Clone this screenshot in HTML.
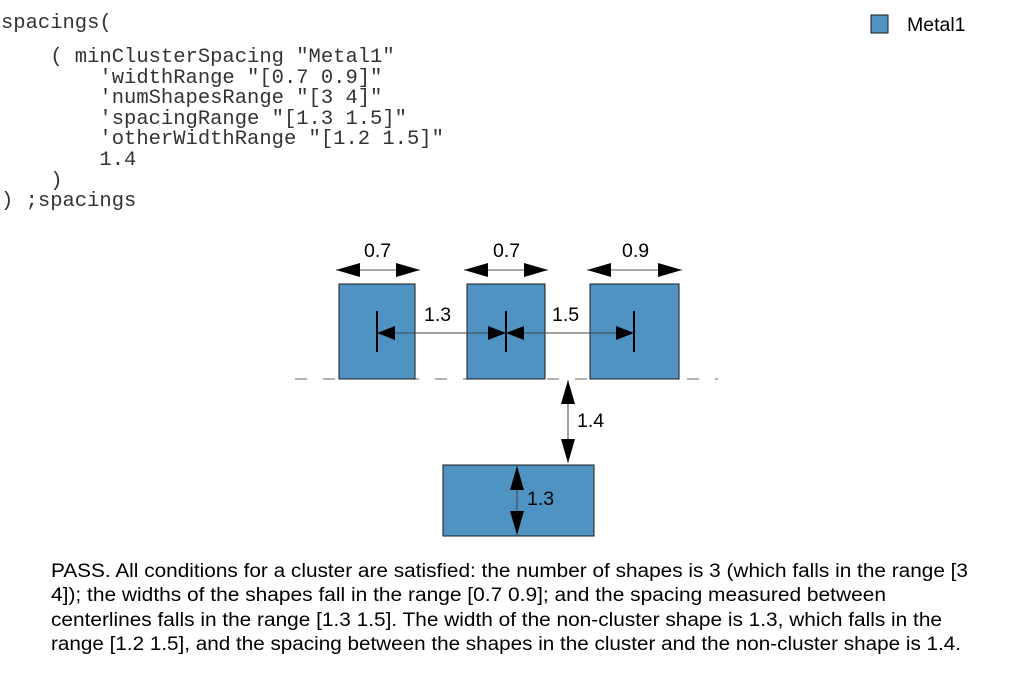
<!DOCTYPE html>
<html><head><meta charset="utf-8"><style>
html,body{margin:0;padding:0;background:#fff;}
svg{display:block;}
.code{font-family:"Liberation Mono",monospace;font-size:20.5px;fill:#333;white-space:pre;}
.lbl{font-family:"Liberation Sans",sans-serif;font-size:19.5px;fill:#000;}
.para{font-family:"Liberation Sans",sans-serif;font-size:19px;fill:#000;}
</style></head><body>
<svg width="1013" height="679" viewBox="0 0 1013 679">
<defs>
<marker id="ah" viewBox="0 0 24 14" refX="24" refY="7" markerWidth="24" markerHeight="14" markerUnits="userSpaceOnUse" orient="auto-start-reverse" preserveAspectRatio="none"><path d="M0,0 L24,7 L0,14 z" fill="#000"/></marker>
<marker id="ahs" viewBox="0 0 18 14" refX="18" refY="7" markerWidth="18" markerHeight="14" markerUnits="userSpaceOnUse" orient="auto-start-reverse" preserveAspectRatio="none"><path d="M0,0 L18,7 L0,14 z" fill="#000"/></marker>
</defs>
<g class="code">
<text x="1" y="28">spacings(</text>
<text x="1" y="62" xml:space="preserve">    ( minClusterSpacing "Metal1"</text>
<text x="1" y="83" xml:space="preserve">        'widthRange "[0.7 0.9]"</text>
<text x="1" y="103" xml:space="preserve">        'numShapesRange "[3 4]"</text>
<text x="1" y="124" xml:space="preserve">        'spacingRange "[1.3 1.5]"</text>
<text x="1" y="144" xml:space="preserve">        'otherWidthRange "[1.2 1.5]"</text>
<text x="1" y="165" xml:space="preserve">        1.4</text>
<text x="1" y="186" xml:space="preserve">    )</text>
<text x="1" y="206" xml:space="preserve">) ;spacings</text>
</g>
<g>
<rect x="871" y="15" width="17" height="18" fill="#4f93c3" stroke="#1a1a1a" stroke-width="1"/>
<text class="lbl" x="907" y="31">Metal1</text>
</g>
<line x1="295" y1="379" x2="718" y2="379" stroke="#666" stroke-width="1" stroke-dasharray="12 16"/>
<g fill="#4f93c3" stroke="#1a1a1a" stroke-width="1">
<rect x="339" y="284" width="76" height="95"/>
<rect x="467" y="284" width="78" height="95"/>
<rect x="590" y="284" width="89" height="95"/>
<rect x="443" y="465" width="151" height="71"/>
</g>
<g stroke="#000" stroke-width="1">
<line x1="336" y1="270" x2="420" y2="270" marker-start="url(#ah)" marker-end="url(#ah)" stroke="#555"/>
<line x1="464" y1="270" x2="548" y2="270" marker-start="url(#ah)" marker-end="url(#ah)" stroke="#555"/>
<line x1="587" y1="270" x2="682" y2="270" marker-start="url(#ah)" marker-end="url(#ah)" stroke="#555"/>
<line x1="377" y1="311" x2="377" y2="352" stroke-width="2"/>
<line x1="506" y1="311" x2="506" y2="352" stroke-width="2"/>
<line x1="634" y1="311" x2="634" y2="352" stroke-width="2"/>
<line x1="377" y1="333" x2="506" y2="333" marker-start="url(#ahs)" marker-end="url(#ahs)" stroke="#444"/>
<line x1="506" y1="333" x2="634" y2="333" marker-start="url(#ahs)" marker-end="url(#ahs)" stroke="#444"/>
<line x1="568" y1="380" x2="568" y2="463" marker-start="url(#ah)" marker-end="url(#ah)" stroke="#444"/>
<line x1="517" y1="466" x2="517" y2="535" marker-start="url(#ah)" marker-end="url(#ah)" stroke="#444"/>
</g>
<g class="lbl">
<text x="364" y="257">0.7</text>
<text x="493" y="257">0.7</text>
<text x="622" y="257">0.9</text>
<text x="424" y="321">1.3</text>
<text x="552" y="321">1.5</text>
<text x="577" y="427">1.4</text>
<text x="527" y="505">1.3</text>
</g>
<g class="para">
<text x="51" y="577" textLength="917" lengthAdjust="spacingAndGlyphs">PASS. All conditions for a cluster are satisfied: the number of shapes is 3 (which falls in the range [3</text>
<text x="51" y="601" textLength="835" lengthAdjust="spacingAndGlyphs">4]); the widths of the shapes fall in the range [0.7 0.9]; and the spacing measured between</text>
<text x="51" y="626" textLength="891" lengthAdjust="spacingAndGlyphs">centerlines falls in the range [1.3 1.5]. The width of the non-cluster shape is 1.3, which falls in the</text>
<text x="51" y="650" textLength="910" lengthAdjust="spacingAndGlyphs">range [1.2 1.5], and the spacing between the shapes in the cluster and the non-cluster shape is 1.4.</text>
</g>
</svg>
</body></html>
